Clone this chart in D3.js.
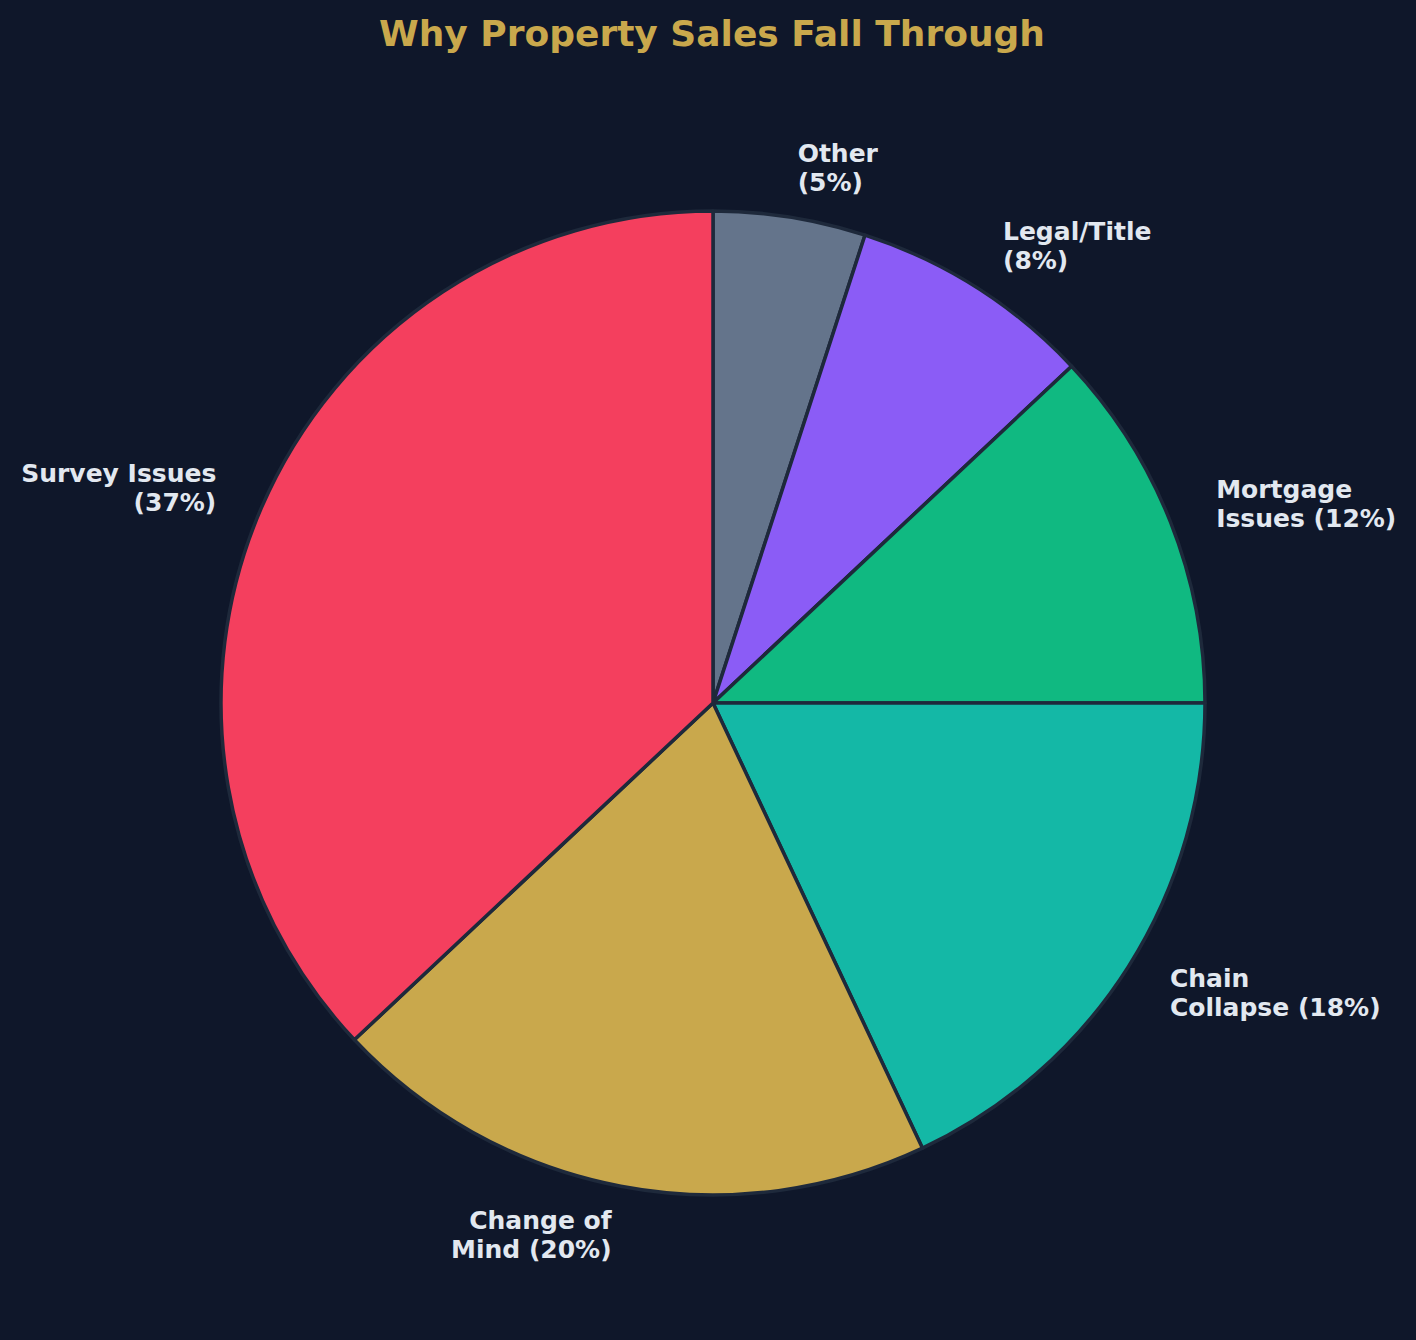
<!DOCTYPE html>
<html>
<head>
<meta charset="utf-8">
<script src="https://cdn.jsdelivr.net/npm/d3@7"></script>
<style>
  html, body { margin: 0; padding: 0; background: #0f172a; }
  svg { display: block; }
</style>
</head>
<body>
<div id="chart"></div>
<script>
// Data (clockwise from 12 o'clock)
const categories = ["Other", "Legal/Title", "Mortgage Issues", "Chain Collapse", "Change of Mind", "Survey Issues"];
const values = [5, 8, 12, 18, 20, 37];
const labelLines = [
  ["Other", "(5%)"],
  ["Legal/Title", "(8%)"],
  ["Mortgage", "Issues (12%)"],
  ["Chain", "Collapse (18%)"],
  ["Change of", "Mind (20%)"],
  ["Survey Issues", "(37%)"]
];
const colors = ["#64748b", "#8b5cf6", "#10b981", "#14b8a6", "#c9a84c", "#f43f5e"];
const title = "Why Property Sales Fall Through";

const W = 1416, H = 1340;
const cx = 713, cy = 703, R = 492;
const labelDist = 1.1;

const svg = d3.select("#chart").append("svg")
  .attr("width", W).attr("height", H)
  .style("background", "#0f172a");

svg.append("rect").attr("width", W).attr("height", H).attr("fill", "#0f172a");

svg.append("text")
  .attr("x", 712).attr("y", 46)
  .attr("text-anchor", "middle")
  .attr("font-family", "DejaVu Sans")
  .attr("font-weight", "bold")
  .attr("font-size", 36)
  .attr("fill", "#c9a84c")
  .text(title);

const data = categories.map((c, i) => ({ cat: c, value: values[i], lines: labelLines[i], color: colors[i] }));

const pie = d3.pie().value(d => d.value).sort(null).startAngle(0).endAngle(2 * Math.PI);
const arcs = pie(data);
const arc = d3.arc().innerRadius(0).outerRadius(R);

const g = svg.append("g").attr("transform", `translate(${cx},${cy})`);

g.selectAll("path.slice").data(arcs).enter().append("path")
  .attr("class", "slice")
  .attr("d", arc)
  .attr("fill", d => d.data.color)
  .attr("stroke", "#1e293b")
  .attr("stroke-width", 3.5)
  .attr("stroke-linejoin", "round");

const lineGap = 29;
arcs.forEach(d => {
  const mid = (d.startAngle + d.endAngle) / 2;
  const x = Math.sin(mid) * R * labelDist;
  const y = -Math.cos(mid) * R * labelDist;
  const anchor = x > 0 ? "start" : "end";
  const t = g.append("text")
    .attr("font-family", "DejaVu Sans")
    .attr("font-weight", "bold")
    .attr("font-size", 25)
    .attr("fill", "#e2e8f0")
    .attr("text-anchor", anchor);
  const n = d.data.lines.length;
  d.data.lines.forEach((ln, i) => {
    t.append("tspan")
      .attr("x", x)
      .attr("y", y - 6 + (i - (n - 2) / 2) * lineGap)
      .text(ln);
  });
});
</script>
</body>
</html>
